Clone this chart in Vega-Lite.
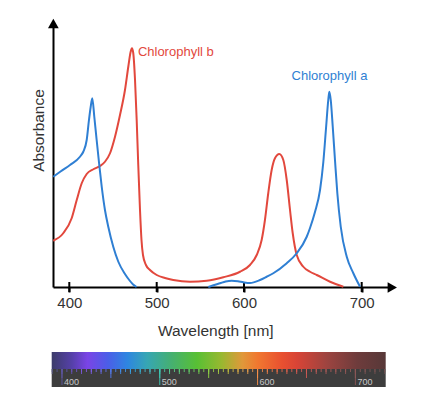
{
  "$schema": "https://vega.github.io/schema/vega-lite/v6.json",
  "width": 381,
  "height": 400,
  "autosize": "none",
  "padding": {"left": 53, "top": 0, "right": 0, "bottom": 0},
  "background": "white",
  "config": {"view": {"stroke": null}, "font": "Liberation Sans"},
  "datasets": {
    "curves": [
      {"p": "Chlorophyll b", "s": "b", "w": 381.7, "A": 0.185},
      {"p": "Chlorophyll b", "s": "b", "w": 393.1, "A": 0.215},
      {"p": "Chlorophyll b", "s": "b", "w": 402.7, "A": 0.275},
      {"p": "Chlorophyll b", "s": "b", "w": 408.5, "A": 0.348},
      {"p": "Chlorophyll b", "s": "b", "w": 414.2, "A": 0.415},
      {"p": "Chlorophyll b", "s": "b", "w": 419.9, "A": 0.452},
      {"p": "Chlorophyll b", "s": "b", "w": 427.5, "A": 0.471},
      {"p": "Chlorophyll b", "s": "b", "w": 435.1, "A": 0.484},
      {"p": "Chlorophyll b", "s": "b", "w": 440.8, "A": 0.501},
      {"p": "Chlorophyll b", "s": "b", "w": 446.6, "A": 0.535},
      {"p": "Chlorophyll b", "s": "b", "w": 452.3, "A": 0.601},
      {"p": "Chlorophyll b", "s": "b", "w": 458.0, "A": 0.688},
      {"p": "Chlorophyll b", "s": "b", "w": 463.7, "A": 0.788},
      {"p": "Chlorophyll b", "s": "b", "w": 467.5, "A": 0.881},
      {"p": "Chlorophyll b", "s": "b", "w": 470.2, "A": 0.941},
      {"p": "Chlorophyll b", "s": "b", "w": 471.7, "A": 0.955},
      {"p": "Chlorophyll b", "s": "b", "w": 473.2, "A": 0.935},
      {"p": "Chlorophyll b", "s": "b", "w": 475.2, "A": 0.828},
      {"p": "Chlorophyll b", "s": "b", "w": 477.1, "A": 0.668},
      {"p": "Chlorophyll b", "s": "b", "w": 478.9, "A": 0.488},
      {"p": "Chlorophyll b", "s": "b", "w": 480.9, "A": 0.308},
      {"p": "Chlorophyll b", "s": "b", "w": 482.6, "A": 0.188},
      {"p": "Chlorophyll b", "s": "b", "w": 484.3, "A": 0.128},
      {"p": "Chlorophyll b", "s": "b", "w": 487.7, "A": 0.088},
      {"p": "Chlorophyll b", "s": "b", "w": 492.3, "A": 0.068},
      {"p": "Chlorophyll b", "s": "b", "w": 500.0, "A": 0.048},
      {"p": "Chlorophyll b", "s": "b", "w": 509.5, "A": 0.036},
      {"p": "Chlorophyll b", "s": "b", "w": 519.0, "A": 0.028},
      {"p": "Chlorophyll b", "s": "b", "w": 538.1, "A": 0.021},
      {"p": "Chlorophyll b", "s": "b", "w": 557.3, "A": 0.025},
      {"p": "Chlorophyll b", "s": "b", "w": 576.3, "A": 0.039},
      {"p": "Chlorophyll b", "s": "b", "w": 595.4, "A": 0.061},
      {"p": "Chlorophyll b", "s": "b", "w": 605.1, "A": 0.088},
      {"p": "Chlorophyll b", "s": "b", "w": 610.8, "A": 0.128},
      {"p": "Chlorophyll b", "s": "b", "w": 615.0, "A": 0.188},
      {"p": "Chlorophyll b", "s": "b", "w": 617.8, "A": 0.268},
      {"p": "Chlorophyll b", "s": "b", "w": 620.6, "A": 0.375},
      {"p": "Chlorophyll b", "s": "b", "w": 623.5, "A": 0.468},
      {"p": "Chlorophyll b", "s": "b", "w": 626.3, "A": 0.515},
      {"p": "Chlorophyll b", "s": "b", "w": 630.0, "A": 0.532},
      {"p": "Chlorophyll b", "s": "b", "w": 633.4, "A": 0.508},
      {"p": "Chlorophyll b", "s": "b", "w": 636.3, "A": 0.428},
      {"p": "Chlorophyll b", "s": "b", "w": 639.1, "A": 0.308},
      {"p": "Chlorophyll b", "s": "b", "w": 641.4, "A": 0.215},
      {"p": "Chlorophyll b", "s": "b", "w": 644.8, "A": 0.128},
      {"p": "Chlorophyll b", "s": "b", "w": 650.4, "A": 0.081},
      {"p": "Chlorophyll b", "s": "b", "w": 656.1, "A": 0.061},
      {"p": "Chlorophyll b", "s": "b", "w": 661.8, "A": 0.048},
      {"p": "Chlorophyll b", "s": "b", "w": 673.1, "A": 0.021},
      {"p": "Chlorophyll b", "s": "b", "w": 684.4, "A": 0.001},
      {"p": "Chlorophyll a", "s": "a1", "w": 381.7, "A": 0.441},
      {"p": "Chlorophyll a", "s": "a1", "w": 390.0, "A": 0.462},
      {"p": "Chlorophyll a", "s": "a1", "w": 400.8, "A": 0.488},
      {"p": "Chlorophyll a", "s": "a1", "w": 412.2, "A": 0.521},
      {"p": "Chlorophyll a", "s": "a1", "w": 416.0, "A": 0.541},
      {"p": "Chlorophyll a", "s": "a1", "w": 419.9, "A": 0.588},
      {"p": "Chlorophyll a", "s": "a1", "w": 422.5, "A": 0.668},
      {"p": "Chlorophyll a", "s": "a1", "w": 424.5, "A": 0.721},
      {"p": "Chlorophyll a", "s": "a1", "w": 426.3, "A": 0.755},
      {"p": "Chlorophyll a", "s": "a1", "w": 428.6, "A": 0.681},
      {"p": "Chlorophyll a", "s": "a1", "w": 431.3, "A": 0.588},
      {"p": "Chlorophyll a", "s": "a1", "w": 434.3, "A": 0.488},
      {"p": "Chlorophyll a", "s": "a1", "w": 437.1, "A": 0.401},
      {"p": "Chlorophyll a", "s": "a1", "w": 440.8, "A": 0.308},
      {"p": "Chlorophyll a", "s": "a1", "w": 444.6, "A": 0.241},
      {"p": "Chlorophyll a", "s": "a1", "w": 450.3, "A": 0.161},
      {"p": "Chlorophyll a", "s": "a1", "w": 456.1, "A": 0.101},
      {"p": "Chlorophyll a", "s": "a1", "w": 463.7, "A": 0.052},
      {"p": "Chlorophyll a", "s": "a1", "w": 469.0, "A": 0.026},
      {"p": "Chlorophyll a", "s": "a1", "w": 473.0, "A": 0.01},
      {"p": "Chlorophyll a", "s": "a1", "w": 477.0, "A": 0.0},
      {"p": "Chlorophyll a", "s": "a2", "w": 559.1, "A": 0.0},
      {"p": "Chlorophyll a", "s": "a2", "w": 565.0, "A": 0.007},
      {"p": "Chlorophyll a", "s": "a2", "w": 572.5, "A": 0.015},
      {"p": "Chlorophyll a", "s": "a2", "w": 579.0, "A": 0.022},
      {"p": "Chlorophyll a", "s": "a2", "w": 585.9, "A": 0.025},
      {"p": "Chlorophyll a", "s": "a2", "w": 593.0, "A": 0.023},
      {"p": "Chlorophyll a", "s": "a2", "w": 599.2, "A": 0.019},
      {"p": "Chlorophyll a", "s": "a2", "w": 605.1, "A": 0.016},
      {"p": "Chlorophyll a", "s": "a2", "w": 613.6, "A": 0.028},
      {"p": "Chlorophyll a", "s": "a2", "w": 619.3, "A": 0.041},
      {"p": "Chlorophyll a", "s": "a2", "w": 624.9, "A": 0.055},
      {"p": "Chlorophyll a", "s": "a2", "w": 636.3, "A": 0.095},
      {"p": "Chlorophyll a", "s": "a2", "w": 644.8, "A": 0.135},
      {"p": "Chlorophyll a", "s": "a2", "w": 653.3, "A": 0.201},
      {"p": "Chlorophyll a", "s": "a2", "w": 656.1, "A": 0.236},
      {"p": "Chlorophyll a", "s": "a2", "w": 660.3, "A": 0.3},
      {"p": "Chlorophyll a", "s": "a2", "w": 664.6, "A": 0.388},
      {"p": "Chlorophyll a", "s": "a2", "w": 667.4, "A": 0.5},
      {"p": "Chlorophyll a", "s": "a2", "w": 669.7, "A": 0.636},
      {"p": "Chlorophyll a", "s": "a2", "w": 671.6, "A": 0.748},
      {"p": "Chlorophyll a", "s": "a2", "w": 672.5, "A": 0.781},
      {"p": "Chlorophyll a", "s": "a2", "w": 673.7, "A": 0.748},
      {"p": "Chlorophyll a", "s": "a2", "w": 675.4, "A": 0.641},
      {"p": "Chlorophyll a", "s": "a2", "w": 677.3, "A": 0.508},
      {"p": "Chlorophyll a", "s": "a2", "w": 679.3, "A": 0.375},
      {"p": "Chlorophyll a", "s": "a2", "w": 682.2, "A": 0.241},
      {"p": "Chlorophyll a", "s": "a2", "w": 687.3, "A": 0.121},
      {"p": "Chlorophyll a", "s": "a2", "w": 692.9, "A": 0.055},
      {"p": "Chlorophyll a", "s": "a2", "w": 698.6, "A": 0.001}
    ],
    "labels": [
      {"p": "Chlorophyll b", "w": 521.9, "A": 0.941},
      {"p": "Chlorophyll a", "w": 672.6, "A": 0.844}
    ],
    "xticks": [{"w": 400}, {"w": 500}, {"w": 600}, {"w": 700}],
    "arrows": [{"axis": "Wavelength"}, {"axis": "Absorbance"}],
    "band": [{"start": 389.5, "end": 731}],
    "specticks": [
      {"w": 390}, {"w": 395}, {"w": 400}, {"w": 405}, {"w": 410}, {"w": 415}, {"w": 420}, {"w": 425}, {"w": 430}, {"w": 435},
      {"w": 440}, {"w": 445}, {"w": 450}, {"w": 455}, {"w": 460}, {"w": 465}, {"w": 470}, {"w": 475}, {"w": 480}, {"w": 485},
      {"w": 490}, {"w": 495}, {"w": 500}, {"w": 505}, {"w": 510}, {"w": 515}, {"w": 520}, {"w": 525}, {"w": 530}, {"w": 535},
      {"w": 540}, {"w": 545}, {"w": 550}, {"w": 555}, {"w": 560}, {"w": 565}, {"w": 570}, {"w": 575}, {"w": 580}, {"w": 585},
      {"w": 590}, {"w": 595}, {"w": 600}, {"w": 605}, {"w": 610}, {"w": 615}, {"w": 620}, {"w": 625}, {"w": 630}, {"w": 635},
      {"w": 640}, {"w": 645}, {"w": 650}, {"w": 655}, {"w": 660}, {"w": 665}, {"w": 670}, {"w": 675}, {"w": 680}, {"w": 685},
      {"w": 690}, {"w": 695}, {"w": 700}, {"w": 705}, {"w": 710}, {"w": 715}, {"w": 720}, {"w": 725}, {"w": 730}
    ]
  },
  "layer": [
    {
      "layer": [
        {
          "data": {"name": "xticks"},
          "mark": {"type": "rule", "color": "black", "strokeWidth": 2},
          "encoding": {
            "x": {"field": "w", "type": "quantitative",
              "scale": {"domain": [381.4, 400, 500, 600, 700, 726], "range": [0, 16.3, 103.7, 191, 308.7, 339.3], "nice": false, "zero": false},
              "axis": {
                "orient": "bottom", "offset": -113, "values": [400, 500, 600, 700],
                "domainColor": "black", "domainWidth": 2,
                "ticks": true, "tickSize": 5, "tickWidth": 2, "tickColor": "black",
                "labelFontSize": 15, "labelColor": "#333333", "labelPadding": 3, "labelFont": "Liberation Sans",
                "grid": false,
                "title": "Wavelength [nm]", "titleFontSize": 15.5, "titleFontWeight": "normal", "titleColor": "#333333",
                "titleFont": "Liberation Sans", "titleX": 162.3, "titleY": 43, "titleBaseline": "middle", "titleAlign": "center"
              }
            },
            "y": {"datum": 0.02, "type": "quantitative",
              "scale": {"domain": [0, 1.052], "range": [287, 24], "nice": false, "zero": false},
              "axis": {
                "orient": "left", "domainColor": "black", "domainWidth": 2, "ticks": false, "labels": false, "grid": false,
                "title": "Absorbance", "titleFontSize": 15.5, "titleFontWeight": "normal", "titleColor": "#333333",
                "titleFont": "Liberation Sans", "titleX": -15, "titleY": 130, "titleAngle": -90,
                "titleAlign": "center", "titleBaseline": "middle"
              }
            },
            "y2": {"datum": -0.02}
          }
        },
        {
          "data": {"name": "curves"},
          "mark": {"type": "line", "interpolate": "monotone", "strokeWidth": 2},
          "encoding": {
            "x": {"field": "w", "type": "quantitative"},
            "y": {"field": "A", "type": "quantitative"},
            "color": {"field": "p", "type": "nominal",
              "scale": {"domain": ["Chlorophyll a", "Chlorophyll b"], "range": ["#2f7fd3", "#e2483d"]}, "legend": null},
            "detail": {"field": "s"},
            "order": {"field": "w"}
          }
        },
        {
          "data": {"name": "labels"},
          "mark": {"type": "text", "fontSize": 13, "align": "center", "baseline": "middle", "font": "Liberation Sans"},
          "encoding": {
            "x": {"field": "w", "type": "quantitative"},
            "y": {"field": "A", "type": "quantitative"},
            "text": {"field": "p"},
            "color": {"field": "p", "type": "nominal", "legend": null}
          }
        },
        {
          "data": {"name": "arrows"},
          "transform": [{"filter": "datum.axis == 'Absorbance'"}],
          "mark": {"type": "point", "shape": "triangle-up", "filled": true, "color": "black", "opacity": 1, "size": 115, "strokeWidth": 0},
          "encoding": {
            "x": {"datum": 381.8, "type": "quantitative"},
            "y": {"datum": 1.054, "type": "quantitative"}
          }
        },
        {
          "data": {"name": "arrows"},
          "transform": [{"filter": "datum.axis == 'Wavelength'"}],
          "mark": {"type": "point", "shape": "triangle-right", "filled": true, "color": "black", "opacity": 1, "size": 115, "strokeWidth": 0},
          "encoding": {
            "x": {"datum": 726, "type": "quantitative"},
            "y": {"datum": -0.002, "type": "quantitative"}
          }
        }
      ]
    },
    {
      "layer": [
        {
          "data": {"name": "band"},
          "mark": {"type": "rect", "fill": {
            "gradient": "linear", "x1": 0, "x2": 1, "y1": 0, "y2": 0,
            "stops": [
              {"offset": 0.0, "color": "#3c3c6a"},
              {"offset": 0.06, "color": "#5540a8"},
              {"offset": 0.107, "color": "#7a44e6"},
              {"offset": 0.168, "color": "#4b5ee8"},
              {"offset": 0.227, "color": "#2e86e0"},
              {"offset": 0.285, "color": "#36a6b4"},
              {"offset": 0.359, "color": "#46b070"},
              {"offset": 0.435, "color": "#58c034"},
              {"offset": 0.508, "color": "#98b830"},
              {"offset": 0.571, "color": "#e0983a"},
              {"offset": 0.616, "color": "#f07830"},
              {"offset": 0.69, "color": "#e85030"},
              {"offset": 0.734, "color": "#d84436"},
              {"offset": 0.825, "color": "#9c4440"},
              {"offset": 0.915, "color": "#6e3c3c"},
              {"offset": 1.0, "color": "#573838"}
            ]
          }},
          "encoding": {
            "x": {"field": "start", "type": "quantitative",
              "scale": {"domain": [389.5, 731], "range": [-1.3, 332.7], "nice": false, "zero": false}, "axis": null},
            "x2": {"field": "end"},
            "y": {"datum": 18, "type": "quantitative",
              "scale": {"domain": [0, 35], "range": [387, 352], "nice": false, "zero": false}, "axis": null},
            "y2": {"datum": 35}
          }
        },
        {
          "data": {"name": "band"},
          "mark": {"type": "rect", "color": "#3d3d3d"},
          "encoding": {
            "x": {"field": "start", "type": "quantitative"},
            "x2": {"field": "end"},
            "y": {"datum": 0, "type": "quantitative"},
            "y2": {"datum": 18}
          }
        },
        {
          "data": {"name": "specticks"},
          "mark": {"type": "rule", "strokeWidth": 1, "opacity": 0.85},
          "encoding": {
            "x": {"field": "w", "type": "quantitative"},
            "y": {"datum": 18, "type": "quantitative"},
            "y2": {"datum": 15},
            "color": {"field": "w", "type": "quantitative", "legend": null,
              "scale": {"domain": [390, 410, 426, 447, 467, 487, 512, 538, 563, 584, 600, 625, 640, 671, 702, 731],
                "range": ["#5a5a8a", "#6a54c0", "#8a5cf0", "#5c74f0", "#44a0f0", "#50c0d0", "#60d090", "#70d850", "#b0d040", "#f0b050", "#f89048", "#f06848", "#e05c50", "#b05a58", "#8a5858", "#705050"]}}
          }
        },
        {
          "data": {"name": "specticks"},
          "transform": [{"filter": "datum.w % 10 == 0"}],
          "mark": {"type": "rule", "strokeWidth": 1, "opacity": 0.85},
          "encoding": {
            "x": {"field": "w", "type": "quantitative"},
            "y": {"datum": 18, "type": "quantitative"},
            "y2": {"datum": 13},
            "color": {"field": "w", "type": "quantitative", "legend": null}
          }
        },
        {
          "data": {"name": "specticks"},
          "transform": [{"filter": "datum.w % 50 == 0"}],
          "mark": {"type": "rule", "strokeWidth": 1, "opacity": 0.9},
          "encoding": {
            "x": {"field": "w", "type": "quantitative"},
            "y": {"datum": 18, "type": "quantitative"},
            "y2": {"datum": 9},
            "color": {"field": "w", "type": "quantitative", "legend": null}
          }
        },
        {
          "data": {"name": "specticks"},
          "transform": [{"filter": "datum.w % 100 == 0"}],
          "mark": {"type": "rule", "strokeWidth": 1, "opacity": 0.9},
          "encoding": {
            "x": {"field": "w", "type": "quantitative"},
            "y": {"datum": 18, "type": "quantitative"},
            "y2": {"datum": 2},
            "color": {"field": "w", "type": "quantitative", "legend": null}
          }
        },
        {
          "data": {"name": "xticks"},
          "mark": {"type": "text", "fontSize": 9, "align": "left", "baseline": "middle", "dx": 2, "color": "#c8c8c8", "font": "Liberation Sans"},
          "encoding": {
            "x": {"field": "w", "type": "quantitative"},
            "y": {"datum": 5, "type": "quantitative"},
            "text": {"field": "w", "type": "quantitative"}
          }
        }
      ]
    }
  ],
  "resolve": {"scale": {"x": "independent", "y": "independent", "color": "independent"}}
}
